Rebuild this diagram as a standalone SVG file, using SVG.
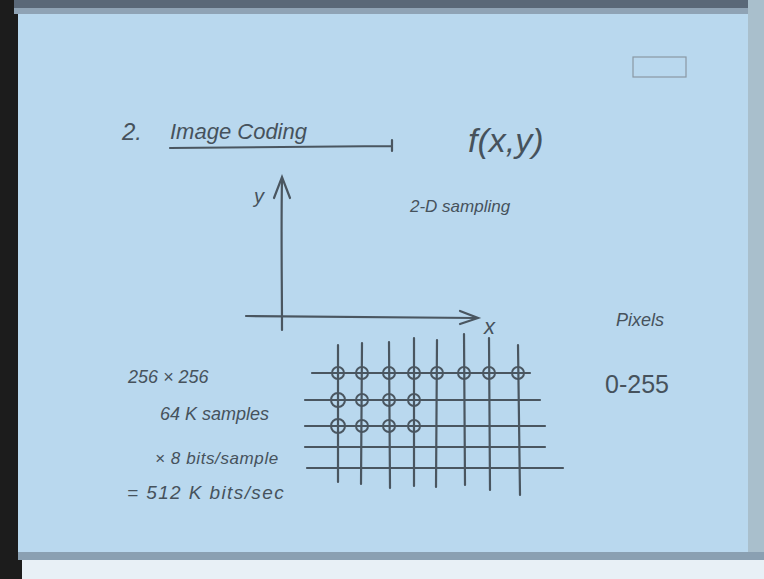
<svg xmlns="http://www.w3.org/2000/svg" width="764" height="579" viewBox="0 0 764 579">
<defs>
<style>
.t{font-family:"Liberation Sans",sans-serif;fill:#46525c;}
.s{stroke:#4a5660;stroke-width:2.2;fill:none;stroke-linecap:round;}
.c{stroke:#4a5660;stroke-width:2;fill:none;}
</style>
</defs>
<rect x="0" y="0" width="764" height="579" fill="#b9d8ee"/>
<rect x="0" y="0" width="18" height="579" fill="#1c1c1c"/>
<rect x="14" y="0" width="750" height="10" fill="#5a6878"/>
<rect x="14" y="8" width="750" height="6" fill="#8fa3b5"/>
<rect x="748" y="0" width="16" height="579" fill="#a9bfcc"/>
<rect x="18" y="552" width="746" height="8" fill="#8aa0b2"/>
<rect x="18" y="560" width="746" height="19" fill="#e8f0f6"/>
<rect x="0" y="560" width="22" height="19" fill="#1c1c1c"/>
<g id="stamp"><rect x="633" y="57" width="53" height="20" fill="none" stroke="#8a98a4" stroke-width="1.2"/></g>
<g id="title">
<text class="t" x="122" y="140" font-size="24" font-style="italic">2.</text>
<text class="t" x="170" y="139" font-size="22" font-style="italic">Image Coding</text>
<path class="s" d="M170 148 L392 146 M392 140 L392 151"/>
</g>
<text class="t" x="468" y="152" font-size="34" font-style="italic">f(x,y)</text>
<text class="t" x="410" y="212" font-size="17" font-style="italic">2-D sampling</text>
<g id="axes">
<path class="s" d="M282 330 C282 280 281 230 282 180"/>
<path class="s" d="M274 198 L282 177 L290 198"/>
<text class="t" x="254" y="203" font-size="20" font-style="italic">y</text>
<path class="s" d="M246 316 L476 318"/>
<path class="s" d="M460 311 L478 318 L460 324"/>
<text class="t" x="484" y="334" font-size="22" font-style="italic">x</text>
</g>
<text class="t" x="616" y="326" font-size="18" font-style="italic">Pixels</text>
<text class="t" x="605" y="393" font-size="25">0-255</text>
<text class="t" x="128" y="383" font-size="18" font-style="italic">256 × 256</text>
<text class="t" x="160" y="420" font-size="18" font-style="italic">64 K samples</text>
<text class="t" x="155" y="464" font-size="17" font-style="italic" letter-spacing="0.6">× 8 bits/sample</text>
<text class="t" x="127" y="499" font-size="19" font-style="italic" letter-spacing="1.4">= 512 K bits/sec</text>
<g id="grid">
<path class="s" d="M338 345 L338 482 M362 343 L361 484 M389 342 L390 488 M414 338 L414 486 M437 340 L436 487 M464 334 L465 485 M489 338 L490 490 M518 345 L520 495"/>
<path class="s" d="M312 373 L530 373 M305 400 L540 400 M305 426 L545 426 M305 447 L545 447 M307 468 L563 468"/>
<g class="c">
<circle cx="338" cy="373" r="6"/><circle cx="362" cy="373" r="6"/><circle cx="389" cy="373" r="6"/><circle cx="414" cy="373" r="6"/><circle cx="437" cy="373" r="6"/><circle cx="464" cy="373" r="6"/><circle cx="489" cy="373" r="6"/><circle cx="518" cy="373" r="6"/>
<circle cx="338" cy="400" r="7"/><circle cx="362" cy="400" r="6"/><circle cx="389" cy="400" r="6"/><circle cx="414" cy="400" r="6"/>
<circle cx="338" cy="426" r="7"/><circle cx="362" cy="426" r="6"/><circle cx="389" cy="426" r="6"/><circle cx="414" cy="426" r="6"/>
</g>
</g>
</svg>
